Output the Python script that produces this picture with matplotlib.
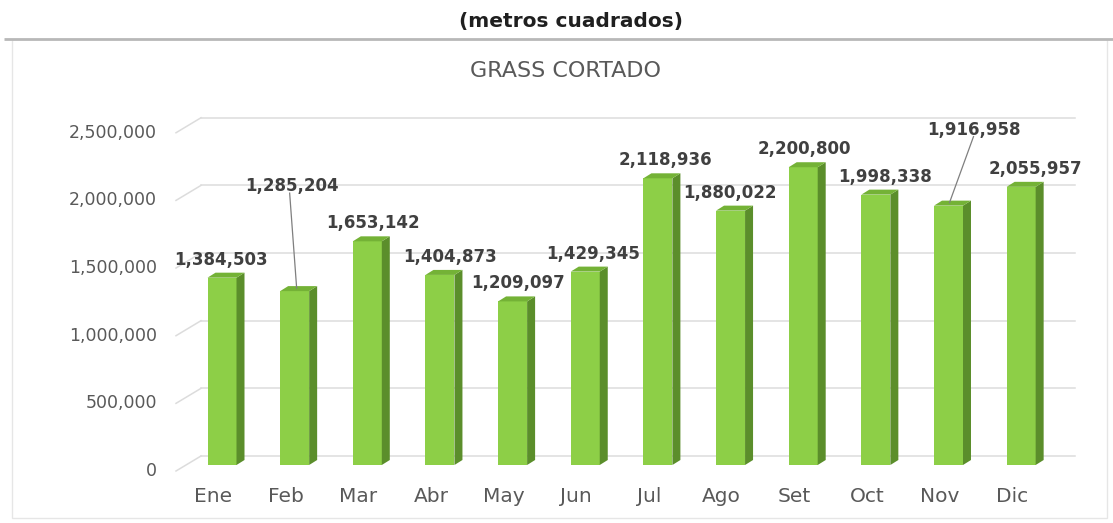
import matplotlib
matplotlib.use('Agg')
import matplotlib.pyplot as plt
from matplotlib.patches import Polygon, Rectangle
import numpy as np

# ---------------- data ----------------
months = ['Ene', 'Feb', 'Mar', 'Abr', 'May', 'Jun', 'Jul', 'Ago', 'Set', 'Oct', 'Nov', 'Dic']
values = [1384503, 1285204, 1653142, 1404873, 1209097, 1429345,
          2118936, 1880022, 2200800, 1998338, 1916958, 2055957]
y_ticks = [0, 500000, 1000000, 1500000, 2000000, 2500000]
y_tick_labels = ['0', '500,000', '1,000,000', '1,500,000', '2,000,000', '2,500,000']
page_title = '(metros cuadrados)'
chart_title = 'GRASS CORTADO'
value_labels = [f'{v:,}' for v in values]

# ---------------- layout (pixels) ----------------
W, H = 1113, 523
X0_PX, STEP_PX = 222.0, 72.65      # front centre of first bar, spacing
BASE_PX, PX_PER_UNIT = 465.0, 135.3e-6

label_dx_px = [-1, -3, 6, 10, 5, 8, 8, -1, 1, 9, 25, 14]
label_dy_px = [18, 105, 18, 18, 18, 18, 18, 18, 18, 18, 76, 18]
leader_idx = {1: (-2, 2), 10: (0, 1)}   # start dx from label, end dx from bar centre

front_c = '#8dcf47'
side_c = '#5b8e2b'
top_c = '#74b236'
grid_c = '#dcdcdc'
tick_c = '#595959'
lab_c = '#404040'


def X(px):
    return (px - X0_PX) / STEP_PX


def Y(py):
    return (BASE_PX - py) / PX_PER_UNIT


def dxu(px):
    return px / STEP_PX


def dyu(px):
    return px / PX_PER_UNIT


fig = plt.figure(figsize=(W / 100, H / 100), dpi=100)
ax = fig.add_axes([0, 0, 1, 1])
ax.set_xlim(X(0), X(W))
ax.set_ylim(Y(H), Y(0))
ax.axis('off')

# frame
ax.add_patch(Rectangle((X(12), Y(518)), X(1107) - X(12), Y(39) - Y(518),
                       fill=False, edgecolor='#e6e6e6', lw=1.0, zorder=0))
ax.plot([X(4), X(W)], [Y(39), Y(39)], color='#b8b8b8', lw=2.0, zorder=0.5,
        solid_capstyle='butt')

# titles
ax.text(X(571), Y(22), page_title, ha='center', va='center', fontsize=14.5,
        fontweight='bold', color='#1f1f1f')
ax.text(X(565), Y(71), chart_title, ha='center', va='center', fontsize=16,
        color=tick_c)

# gridlines on back wall + slanted side-wall segments + tick labels
for t, tl in zip(y_ticks, y_tick_labels):
    yb = t + dyu(9)
    ax.plot([X(201), X(1075)], [yb, yb], color=grid_c, lw=1.1, zorder=1)
    ax.plot([X(176), X(201)], [t - dyu(6), yb], color=grid_c, lw=1.1, zorder=1)
    ax.text(X(157), t - dyu(6), tl, ha='right', va='center', fontsize=12.5,
            color=tick_c)

# bars
xs = np.arange(len(values))
bw = dxu(29)
ddx, ddy = dxu(8), dyu(5)
ax.bar(xs, values, width=bw, color=front_c, zorder=3, linewidth=0)
for i, v in zip(xs, values):
    xl, xr = i - bw / 2, i + bw / 2
    ax.add_patch(Polygon([(xr, 0), (xr, v), (xr + ddx, v + ddy), (xr + ddx, ddy)],
                         closed=True, facecolor=side_c, edgecolor='none', zorder=3))
    ax.add_patch(Polygon([(xl, v), (xr, v), (xr + ddx, v + ddy), (xl + ddx, v + ddy)],
                         closed=True, facecolor=top_c, edgecolor='none', zorder=3))

# category labels
for i, m in zip(xs, months):
    ax.text(i + dxu(-9), Y(497), m, ha='center', va='center', fontsize=14.5,
            color=tick_c)

# value labels
for i, (v, s) in enumerate(zip(values, value_labels)):
    lx = i + dxu(label_dx_px[i])
    ly = v + dyu(label_dy_px[i])
    ax.text(lx, ly, s, ha='center', va='center', fontsize=12, fontweight='bold',
            color=lab_c, zorder=5)
    if i in leader_idx:
        sdx, edx = leader_idx[i]
        ax.plot([lx + dxu(sdx), i + dxu(edx)], [ly - dyu(7), v + dyu(3)],
                color='#7f7f7f', lw=0.9, zorder=4)

fig.savefig('out.png', dpi=100)
